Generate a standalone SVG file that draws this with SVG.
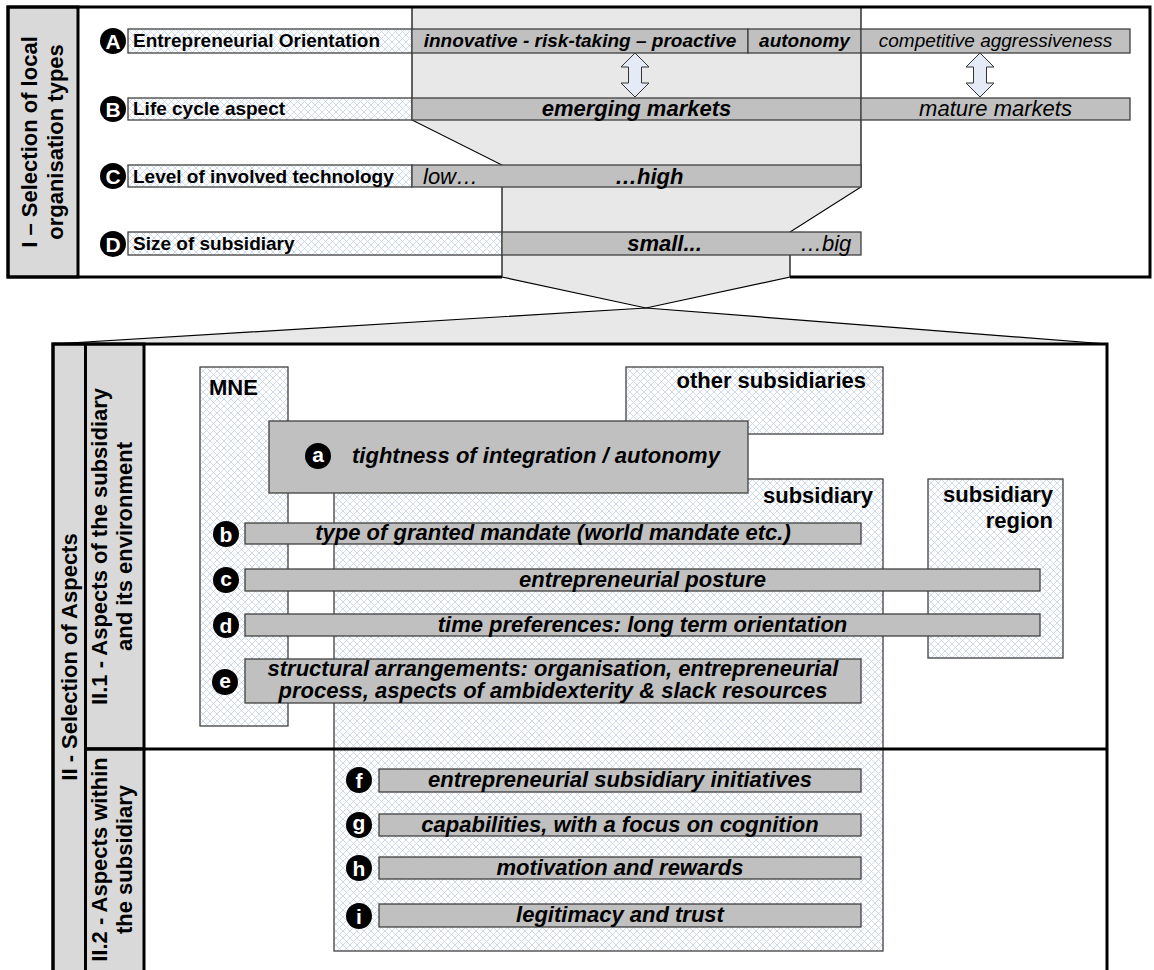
<svg xmlns="http://www.w3.org/2000/svg" width="1154" height="970" viewBox="0 0 1154 970">
<defs>
<pattern id="hatch" width="7" height="7" patternUnits="userSpaceOnUse">
<rect width="7" height="7" fill="#ffffff"/>
<path d="M0,0 L7,7 M7,0 L0,7" stroke="#c3d0e8" stroke-width="0.8"/>
</pattern>
</defs>
<style>
.white{fill:#ffffff;stroke:none}
.frame{fill:none;stroke:#000;stroke-width:3}
.col{fill:#d9d9d9;stroke:#000;stroke-width:3}
.hatch{fill:url(#hatch);stroke:#404040;stroke-width:1.3}
.bar{fill:#c0c0c0;stroke:#404040;stroke-width:1.3}
.funnel{fill:#e8e8e8;stroke:#000;stroke-width:1.2}
.arrow{fill:#e4eaf6;stroke:#333;stroke-width:1}
.divider{stroke:#000;stroke-width:3;fill:none}
text{font-family:"Liberation Sans",Arial,sans-serif;fill:#000}
.lbl{font-weight:bold;font-size:19px}
.big{font-weight:bold;font-size:22px}
.bi19{font-weight:bold;font-style:italic;font-size:19px;text-anchor:middle}
.i19{font-style:italic;font-size:19px;text-anchor:middle}
.bi{font-weight:bold;font-style:italic;font-size:22px;text-anchor:middle}
.it{font-style:italic;font-size:22px;text-anchor:middle}
.rot{font-weight:bold;font-size:22px;text-anchor:middle}
.end{text-anchor:end}
.start{text-anchor:start}
.dot{fill:#000}
.cl{fill:#fff;font-weight:bold;font-size:21px;text-anchor:middle}
</style>

<!-- Part I frame -->
<g id="partI">
<rect class="white" x="8" y="7" width="1142" height="270"/>
</g>

<g id="connectors">
<path class="funnel" d="M412,7 L412,120 L502,165 L502,277 L646,308 L790,277 L790,232 L861,187 L861,7 Z"/>
<path class="funnel" d="M646,308 L53,344 L1107,344 Z"/>
<path class="arrow" d="M635,53 L649,67 L641.5,67 L641.5,83 L649,83 L635,97 L621,83 L628.5,83 L628.5,67 L621,67 Z"/>
<path class="arrow" d="M980,53 L994,67 L986.5,67 L986.5,83 L994,83 L980,97 L966,83 L973.5,83 L973.5,67 L966,67 Z"/>
</g>

<g id="partI-frame">
<rect class="col" x="8" y="7" width="70" height="270"/>
<path class="frame" d="M502,277 L8,277 L8,7 L1150,7 L1150,277 L790,277"/>
<g transform="translate(0,142) rotate(-90)">
<text class="rot" x="0" y="37">I – Selection of local</text>
<text class="rot" x="0" y="63">organisation types</text>
</g>
</g>

<g id="rowA">
<rect class="hatch" x="128" y="29" width="284" height="24"/>
<rect class="bar" x="412" y="29" width="336" height="24"/>
<rect class="bar" x="748" y="29" width="113" height="24"/>
<rect class="bar" x="861" y="29" width="269" height="24"/>
<circle class="dot" cx="113" cy="41" r="13"/>
<text class="cl" x="113" y="48.5">A</text>
<text class="lbl" x="133" y="47">Entrepreneurial Orientation</text>
<text class="bi19" x="580" y="47">innovative - risk-taking – proactive</text>
<text class="bi19" x="804.5" y="47">autonomy</text>
<text class="i19" x="995.5" y="47">competitive aggressiveness</text>
</g>

<g id="rowB">
<rect class="hatch" x="128" y="98" width="284" height="22"/>
<rect class="bar" x="412" y="98" width="449" height="22"/>
<rect class="bar" x="861" y="98" width="269" height="22"/>
<circle class="dot" cx="113" cy="109" r="13"/>
<text class="cl" x="113" y="116.5">B</text>
<text class="lbl" x="133" y="115">Life cycle aspect</text>
<text class="bi" x="636.5" y="116">emerging markets</text>
<text class="it" x="995.5" y="116">mature markets</text>
</g>

<g id="rowC">
<rect class="hatch" x="128" y="165" width="284" height="22"/>
<rect class="bar" x="412" y="165" width="449" height="22"/>
<circle class="dot" cx="113" cy="176" r="13"/>
<text class="cl" x="113" y="183.5">C</text>
<text class="lbl" x="133" y="183">Level of involved technology</text>
<text class="it start" x="423" y="184">low…</text>
<text class="bi start" x="615" y="184">…high</text>
</g>

<g id="rowD">
<rect class="hatch" x="128" y="232" width="374" height="23"/>
<rect class="bar" x="502" y="232" width="359" height="23"/>
<circle class="dot" cx="113" cy="244" r="13"/>
<text class="cl" x="113" y="251.5">D</text>
<text class="lbl" x="133" y="250">Size of subsidiary</text>
<text class="bi" x="664.5" y="251">small...</text>
<text class="it start" x="800" y="251">…big</text>
</g>

<!-- Part II -->
<g id="partII">
<rect class="white" x="53" y="344" width="1054" height="640"/>
<rect class="col" x="53" y="344" width="32.5" height="640"/>
<rect class="col" x="85.5" y="344" width="58.5" height="405"/>
<rect class="col" x="85.5" y="749" width="58.5" height="235"/>
<rect class="frame" x="53" y="344" width="1054" height="640"/>
<g transform="translate(0,657) rotate(-90)">
<text class="rot" x="0" y="77">II - Selection of Aspects</text>
</g>
<g transform="translate(0,546.5) rotate(-90)">
<text class="rot" x="0" y="107">II.1 - Aspects of the subsidiary</text>
<text class="rot" x="0" y="132">and its environment</text>
</g>
<g transform="translate(0,859.5) rotate(-90)">
<text class="rot" x="0" y="107">II.2 - Aspects within</text>
<text class="rot" x="0" y="132">the subsidiary</text>
</g>
</g>

<g id="mne">
<rect class="hatch" x="200" y="367" width="88" height="359"/>
<text class="big" x="209" y="395">MNE</text>
</g>
<g id="other-subsidiaries">
<rect class="hatch" x="626" y="367" width="257" height="67"/>
<text class="big end" x="866" y="388">other subsidiaries</text>
</g>
<g id="subsidiary">
<rect class="hatch" x="334" y="479" width="549" height="472"/>
<text class="big end" x="873" y="503">subsidiary</text>
</g>
<g id="subsidiary-region">
<rect class="hatch" x="928" y="479" width="135" height="179"/>
<text class="big end" x="1053" y="502">subsidiary</text>
<text class="big end" x="1053" y="528">region</text>
</g>

<line id="divider" class="divider" x1="85.5" y1="749" x2="1107" y2="749"/>

<g id="item-a">
<rect class="bar" x="269" y="421" width="479" height="72"/>
<circle class="dot" cx="318" cy="456" r="13"/>
<text class="cl" x="318" y="462">a</text>
<text class="bi start" x="352" y="463">tightness of integration / autonomy</text>
</g>
<g id="item-b">
<rect class="bar" x="245" y="523" width="616" height="21"/>
<circle class="dot" cx="226" cy="534" r="13"/>
<text class="cl" x="226" y="541.5">b</text>
<text class="bi" x="553" y="540">type of granted mandate (world mandate etc.)</text>
</g>
<g id="item-c">
<rect class="bar" x="245" y="569" width="795" height="22"/>
<circle class="dot" cx="226" cy="580" r="13"/>
<text class="cl" x="226" y="586">c</text>
<text class="bi" x="642.5" y="587">entrepreneurial posture</text>
</g>
<g id="item-d">
<rect class="bar" x="245" y="614" width="795" height="22"/>
<circle class="dot" cx="226" cy="625" r="13"/>
<text class="cl" x="226" y="632.5">d</text>
<text class="bi" x="642.5" y="632">time preferences: long term orientation</text>
</g>
<g id="item-e">
<rect class="bar" x="245" y="659" width="616" height="44"/>
<circle class="dot" cx="225" cy="682" r="13"/>
<text class="cl" x="225" y="688">e</text>
<text class="bi" x="553" y="676">structural arrangements: organisation, entrepreneurial</text>
<text class="bi" x="553" y="698">process, aspects of ambidexterity &amp; slack resources</text>
</g>
<g id="item-f">
<rect class="bar" x="379" y="769" width="482" height="23"/>
<circle class="dot" cx="359" cy="780" r="13"/>
<text class="cl" x="359" y="787.5">f</text>
<text class="bi" x="620" y="787">entrepreneurial subsidiary initiatives</text>
</g>
<g id="item-g">
<rect class="bar" x="379" y="814" width="482" height="22"/>
<circle class="dot" cx="359" cy="825" r="13"/>
<text class="cl" x="359" y="829.5">g</text>
<text class="bi" x="620" y="832">capabilities, with a focus on cognition</text>
</g>
<g id="item-h">
<rect class="bar" x="379" y="857" width="482" height="22"/>
<circle class="dot" cx="359" cy="868" r="13"/>
<text class="cl" x="359" y="875.5">h</text>
<text class="bi" x="620" y="875">motivation and rewards</text>
</g>
<g id="item-i">
<rect class="bar" x="379" y="904" width="482" height="23"/>
<circle class="dot" cx="359" cy="916" r="13"/>
<text class="cl" x="359" y="923.5">i</text>
<text class="bi" x="620" y="922">legitimacy and trust</text>
</g>
</svg>
